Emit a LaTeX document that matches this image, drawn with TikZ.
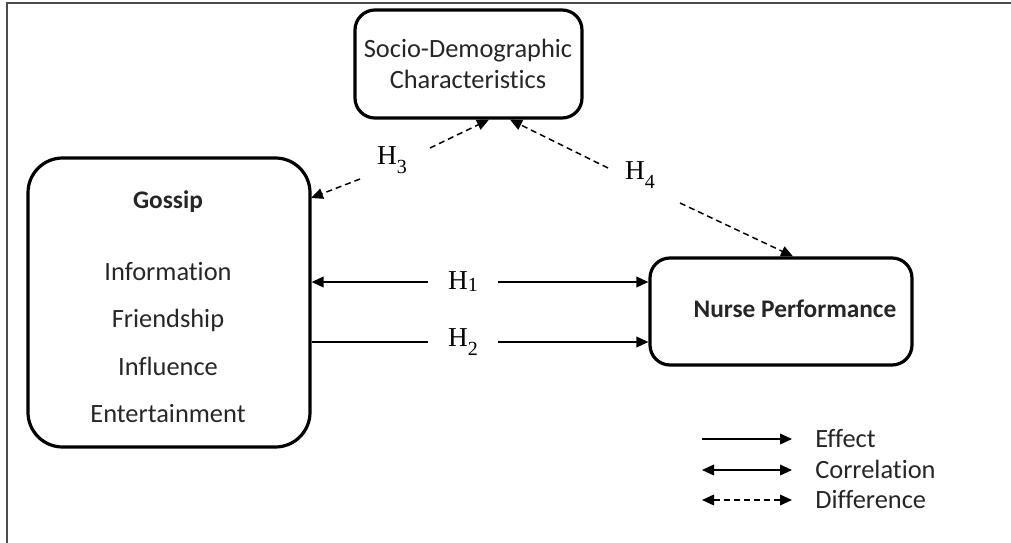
\documentclass[tikz,border=0pt]{standalone}
\usepackage{fontspec}
\setmainfont{Carlito}[Ligatures={NoCommon,NoRare,NoContextual}]
\newfontfamily\hfont{Liberation Serif}
\usetikzlibrary{arrows.meta,calc}
\tikzset{
  box/.style={draw=black,line width=2.4pt,rectangle,inner sep=0pt},
  txt/.style={anchor=base,inner sep=0pt,text=black!85,font=\fontsize{19.8}{23}\selectfont},
  btxt/.style={txt,font=\fontsize{19}{23}\selectfont\bfseries},
  hl/.style={inner sep=0pt,font=\hfont\fontsize{20.5}{24}\selectfont},
  conn/.style={line width=1.1pt,-{Triangle[length=9pt,width=8pt]}},
  dconn/.style={conn,dash pattern=on 4.5pt off 3pt},
  frame/.style={draw=black!70,line width=1.5pt}
}
\newcommand{\hsub}[2]{H\raisebox{-#2pt}{\fontsize{15}{15}\selectfont #1}}
\begin{document}
\begin{tikzpicture}[x=0.75pt,y=-0.75pt]
\useasboundingbox (0,0) rectangle (1011,543);
\draw[frame] (7,560) -- (7,3) -- (1020,3);
% boxes
\node[box,rounded corners=15pt,minimum width=170.25pt,minimum height=81pt] (socio) at (468.5,64) {};
\node[box,rounded corners=26pt,minimum width=211.5pt,minimum height=216.75pt] (gossip) at (169,302.5) {};
\node[box,rounded corners=15pt,minimum width=196.5pt,minimum height=80.25pt] (nurse) at (781,311.5) {};
% texts
\node[txt] (s1) at (468,57) {Socio-Demographic};
\node[txt] (s2) at (468,88) {Characteristics};
\node[btxt] (g0) at (168,208) {Gossip};
\node[txt] (g1) at (168,280) {Information};
\node[txt] (g2) at (168,327) {Friendship};
\node[txt] (g3) at (168,375) {Influence};
\node[txt] (g4) at (168,422) {Entertainment};
\node[btxt] (np) at (795,317) {Nurse Performance};
% H1, H2
\node[hl,minimum width=52.5pt] (h1) at (463,282) {\hsub{1}{1.5}};
\node[hl,minimum width=52.5pt] (h2) at (463,342) {\hsub{2}{7}};
\draw[conn] (h1.west) -- (gossip.east |- h1);
\draw[conn] (h1.east) -- (nurse.west |- h1);
\draw[line width=1.1pt] (h2.west) -- (gossip.east |- h2);
\draw[conn] (h2.east) -- (nurse.west |- h2);
% H3
\node[hl] (h3) at (392,160) {\hsub{3}{7}};
\coordinate (h3a) at (360,179);
\coordinate (h3b) at (430,148);
\coordinate (g3tip) at (311,198);
\coordinate (s3) at (489,0);
\draw[dconn] (h3a) -- (g3tip);
\draw[dconn] (h3b) -- (socio.south -| s3);
% H4
\node[hl] (h4) at (640,175) {\hsub{4}{7}};
\coordinate (h4a) at (608,168);
\coordinate (h4b) at (680,203);
\coordinate (s4) at (510,0);
\coordinate (n4) at (793,0);
\draw[dconn] (h4a) -- (socio.south -| s4);
\draw[dconn] (h4b) -- (nurse.north -| n4);
% legend
\coordinate (e0) at (702,439);
\coordinate (e1) at (792,439);
\coordinate (c0) at (702,470);
\coordinate (c1) at (792,470);
\coordinate (d0) at (702,500);
\coordinate (d1) at (792,500);
\draw[conn] (e0) -- (e1);
\draw[conn,{Triangle[length=9pt,width=8pt]}-{Triangle[length=9pt,width=8pt]}] (c0) -- (c1);
\draw[dconn,{Triangle[length=9pt,width=8pt]}-{Triangle[length=9pt,width=8pt]}] (d0) -- (d1);
\node[txt,anchor=base west] (le) at (815,447) {Effect};
\node[txt,anchor=base west] (lc) at (815,478) {Correlation};
\node[txt,anchor=base west] (ld) at (815,508) {Difference};
\end{tikzpicture}
\end{document}
